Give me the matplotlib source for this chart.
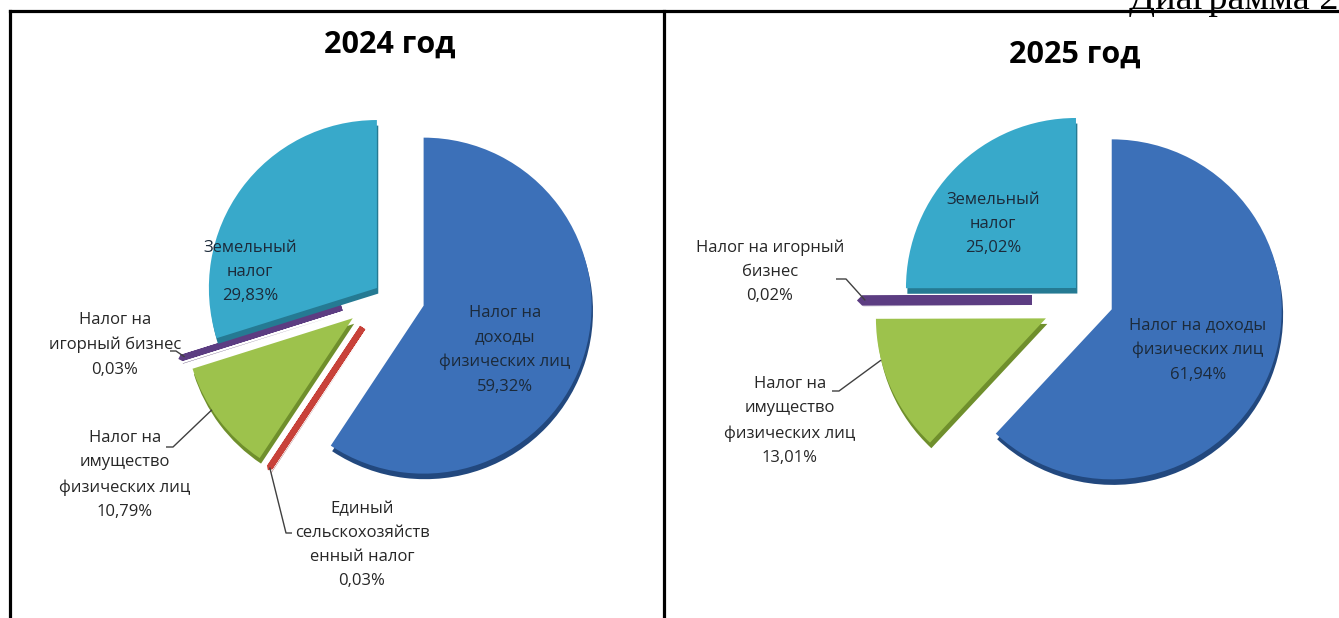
"""
Two exploded pie charts: structure of local tax revenues, 2024 vs 2025.
Saves out.png (1339x618).
"""

import numpy as np
import matplotlib.pyplot as plt
import matplotlib.patheffects as pe

W, H = 1339, 618

# ---- data -------------------------------------------------------------
labels_2024 = ["Налог на\nдоходы\nфизических лиц",
               "Единый\nсельскохозяйств\nенный налог",
               "Налог на\nимущество\nфизических лиц",
               "Налог на\nигорный бизнес",
               "Земельный\nналог"]
values_2024 = [59.32, 0.03, 10.79, 0.03, 29.83]
pct_2024 = ["59,32%", "0,03%", "10,79%", "0,03%", "29,83%"]

labels_2025 = ["Налог на доходы\nфизических лиц",
               "Налог на\nимущество\nфизических лиц",
               "Налог на игорный\nбизнес",
               "Земельный\nналог"]
values_2025 = [61.94, 13.01, 0.02, 25.02]
pct_2025 = ["61,94%", "13,01%", "0,02%", "25,02%"]

# ---- styles -----------------------------------------------------------
COL = {
    "ndfl": ("#3c70b8", "#22487e"),
    "eshn": ("#c8423a", "#8e2a24"),
    "imush": ("#9dc24c", "#6f8f2c"),
    "igor": ("#5c3d82", "#3d2858"),
    "zem": ("#38a9ca", "#257a93"),
}
keys_2024 = ["ndfl", "eshn", "imush", "igor", "zem"]
keys_2025 = ["ndfl", "imush", "igor", "zem"]

FONT = "Open Sans"
TXT = "#262626"
LBL_SIZE = 12
LBL_SPACING = 1.68


def Y(y):
    """pixel row (top-down) -> axes y (bottom-up)"""
    return H - y


fig = plt.figure(figsize=(W / 100, H / 100), dpi=100, facecolor="white")
ax = fig.add_axes([0, 0, 1, 1])


def draw_pie(values, keys, center, radius, explode, thin_lw):
    # pie() takes explode in data units, so scale the fractions by radius
    wedges, _ = ax.pie(values, colors=[COL[k][0] for k in keys],
                       startangle=90, counterclock=False,
                       explode=[e * radius for e in explode],
                       radius=radius, center=(center[0], Y(center[1])),
                       wedgeprops=dict(linewidth=0))
    for w, v, k in zip(wedges, values, keys):
        face, dark = COL[k]
        if v < 1:
            # very thin slices: draw them as a visible strip
            w.set_edgecolor(face)
            w.set_linewidth(thin_lw)
            w.set_joinstyle("bevel")
        w.set_path_effects([
            pe.SimplePatchShadow(offset=(1, -4), shadow_rgbFace=dark, alpha=1.0),
            pe.Normal(),
        ])
    return wedges


def wedge_point(w, frac_angle=0.5, frac_r=1.0):
    th = np.deg2rad(w.theta1 + frac_angle * (w.theta2 - w.theta1))
    cx, cy = w.center
    return cx + frac_r * w.r * np.cos(th), cy + frac_r * w.r * np.sin(th)


def inner_label(x, y, text, pct):
    ax.text(x, Y(y), text + "\n" + pct, ha="center", va="center",
            fontsize=LBL_SIZE, family=FONT, color="#1c2a3a",
            linespacing=LBL_SPACING)


def outer_label(x, y, text, pct, anchor, wedge, frac_angle=0.5, frac_r=1.0):
    ax.text(x, Y(y), text + "\n" + pct, ha="center", va="center",
            fontsize=LBL_SIZE, family=FONT, color=TXT,
            linespacing=LBL_SPACING)
    px, py = wedge_point(wedge, frac_angle, frac_r)
    xs, ay_ = anchor
    ax.plot([xs[0], xs[1], px], [Y(ay_), Y(ay_), py],
            color="#404040", lw=1.0, solid_capstyle="butt")


# ---- 2024 ---------------------------------------------------------------
w24 = draw_pie(values_2024, keys_2024, center=(385, 294), radius=168,
               explode=[0.24, 0.24, 0.24, 0.27, 0.06], thin_lw=4.5)

inner_label(505, 350, labels_2024[0], pct_2024[0])
inner_label(250, 272, labels_2024[4], pct_2024[4])
outer_label(115, 345, labels_2024[3], pct_2024[3],
            anchor=((170, 176), 351), wedge=w24[3], frac_r=0.98)
outer_label(125, 475, labels_2024[2], pct_2024[2],
            anchor=((166, 173), 447), wedge=w24[2], frac_angle=0.4)
outer_label(362, 545, labels_2024[1], pct_2024[1],
            anchor=((292, 286), 533), wedge=w24[1])

# ---- 2025 ---------------------------------------------------------------
w25 = draw_pie(values_2025, keys_2025, center=(1088, 300), radius=170,
               explode=[0.15, 0.27, 0.33, 0.1], thin_lw=7)

inner_label(1198, 350, labels_2025[0], pct_2025[0])
inner_label(993, 224, labels_2025[3], pct_2025[3])
outer_label(770, 272, labels_2025[2], pct_2025[2],
            anchor=((836, 846), 279), wedge=w25[2], frac_r=0.98)
outer_label(790, 421, labels_2025[1], pct_2025[1],
            anchor=((832, 839), 391), wedge=w25[1], frac_angle=0.3)

# ---- titles, frame --------------------------------------------------------
ax.text(390, Y(45), "2024 год", ha="center", va="center", fontsize=22,
        fontweight="bold", family=FONT, color="black")
ax.text(1075, Y(55), "2025 год", ha="center", va="center", fontsize=22,
        fontweight="bold", family=FONT, color="black")
ax.text(1129, Y(9), "Диаграмма 2", ha="left", va="baseline", fontsize=27.5,
        family="Liberation Serif", color="black", clip_on=False)

frame = dict(color="black", lw=2.3, clip_on=False, solid_capstyle="projecting")
ax.plot([10, W], [Y(11), Y(11)], **frame)
ax.plot([10, 10], [Y(11), 0], **frame)
ax.plot([664, 664], [Y(11), 0], **frame)

ax.set_xlim(0, W)
ax.set_ylim(0, H)
ax.set_aspect("auto")
ax.axis("off")

fig.savefig("out.png", dpi=100, facecolor="white")
